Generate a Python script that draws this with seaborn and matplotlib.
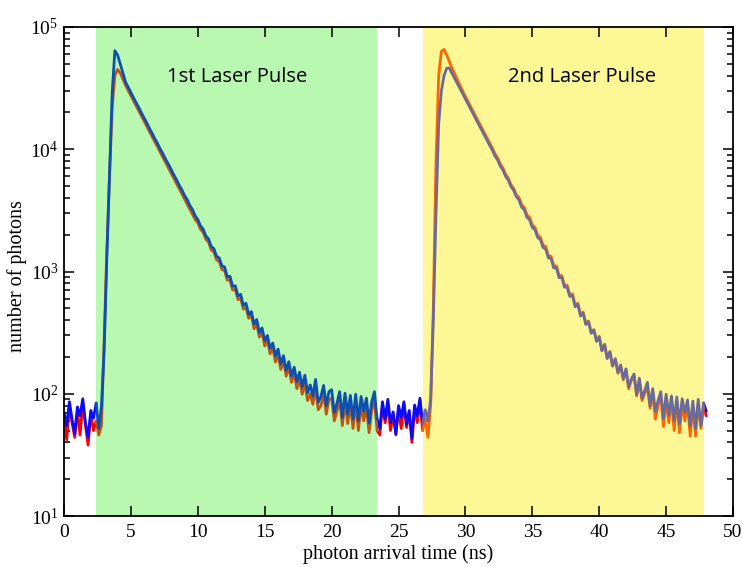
import numpy as np
import pandas as pd
import matplotlib
matplotlib.use("Agg")
import matplotlib.pyplot as plt
import seaborn as sns
from matplotlib.ticker import LogLocator, LogFormatterMathtext, NullFormatter

# ---------------- data ----------------
time_ns = np.round(np.arange(241) * 0.2, 1)   # histogram bin positions, 0 .. 48 ns

blue_counts = [
    70, 55, 86, 62, 47, 78, 66, 91, 58, 44,
    73, 63, 84, 52, 80, 230, 1300, 6200, 29000, 64000,
    59000, 50000, 42000, 35400, 32100, 29100, 26300, 23900, 21800, 19700,
    17900, 16300, 14700, 13400, 12100, 11100, 10000, 9150, 8250, 7550,
    6850, 6180, 5650, 5100, 4680, 4200, 3880, 3470, 3210, 2860,
    2660, 2360, 2220, 1950, 1850, 1600, 1540, 1330, 1290, 1110,
    1090, 905, 915, 755, 765, 630, 650, 528, 550, 445,
    470, 372, 405, 318, 345, 272, 300, 236, 260, 205,
    232, 176, 205, 155, 183, 140, 165, 126, 150, 114,
    142, 102, 118, 96, 131, 85, 95, 117, 80, 104,
    108, 70, 84, 104, 64, 101, 68, 97, 62, 99,
    60, 95, 72, 92, 58, 86, 104, 62, 52, 86,
    62, 90, 58, 71, 47, 80, 64, 86, 56, 73,
    43, 81, 66, 92, 57, 74, 60, 90, 400, 3000,
    16000, 30000, 40000, 46000, 46200, 41800, 37900, 34400, 31300, 28400,
    25800, 23400, 21250, 19300, 17500, 15900, 14450, 13130, 11920, 10830,
    9900, 8850, 8200, 7300, 6780, 6010, 5600, 4960, 4630, 4100,
    3860, 3360, 3200, 2770, 2650, 2290, 2200, 1895, 1830, 1570,
    1530, 1290, 1280, 1070, 1070, 890, 895, 745, 745, 625,
    635, 515, 537, 433, 455, 368, 388, 312, 332, 268,
    290, 226, 252, 195, 220, 170, 193, 150, 172, 133,
    160, 114, 132, 145, 98, 134, 92, 106, 124, 80,
    110, 72, 88, 104, 63, 99, 67, 96, 60, 94,
    57, 91, 70, 89, 54, 87, 52, 90, 55, 84,
    72,
]

red_counts = [
    66, 42, 80, 58, 44, 72, 46, 84, 55, 38,
    68, 50, 60, 46, 55, 280, 1500, 6000, 22000, 40000,
    45000, 42000, 37500, 33300, 30200, 27350, 24820, 22520, 20440, 18550,
    16830, 15270, 13860, 12580, 11410, 10370, 9410, 8540, 7750, 7030,
    6380, 5790, 5250, 4770, 4330, 3930, 3560, 3230, 2940, 2660,
    2500, 2215, 2090, 1830, 1740, 1500, 1445, 1245, 1205, 1035,
    1020, 850, 850, 705, 712, 588, 605, 492, 508, 414,
    440, 340, 372, 290, 318, 246, 274, 212, 238, 182,
    210, 158, 186, 139, 165, 124, 148, 110, 133, 99,
    122, 88, 100, 82, 113, 74, 80, 100, 68, 90,
    92, 60, 72, 90, 55, 86, 57, 83, 52, 84,
    50, 80, 60, 78, 48, 74, 88, 50, 46, 80,
    58, 84, 50, 68, 46, 75, 52, 83, 53, 70,
    40, 76, 58, 88, 50, 62, 44, 80, 500, 8000,
    40000, 63000, 65500, 59000, 52000, 46000, 41500, 37000, 33300, 29900,
    27000, 24560, 22250, 20200, 18330, 16640, 15110, 13720, 12450, 11310,
    10330, 9230, 8540, 7600, 7050, 6250, 5810, 5140, 4790, 4240,
    4040, 3520, 3350, 2900, 2770, 2400, 2300, 1980, 1910, 1640,
    1600, 1345, 1330, 1118, 1108, 930, 925, 775, 770, 650,
    656, 533, 552, 448, 465, 378, 393, 320, 335, 272,
    296, 224, 254, 194, 221, 168, 193, 147, 170, 130,
    156, 110, 128, 140, 96, 126, 88, 100, 116, 76,
    100, 62, 80, 95, 54, 90, 58, 88, 50, 86,
    48, 84, 60, 82, 45, 80, 45, 83, 52, 78,
    66,
]

window_edges = [(2.4, 23.4), (26.8, 47.8)]
window_labels = ["1st Laser Pulse", "2nd Laser Pulse"]
window_fill = ["#b8f8b0", "#fdf795"]
window_red_color = ["#c0570f", "#ff6600"]
window_blue_color = ["#0d4fb3", "#6a6a9c"]
x_ticks = [0, 5, 10, 15, 20, 25, 30, 35, 40, 45, 50]

# ---------------- styling ----------------
sns.set_theme(style="white")
plt.rcParams['font.family'] = ['Liberation Serif', 'DejaVu Serif']
plt.rcParams['mathtext.fontset'] = 'stix'

fig = plt.figure(figsize=(7.42, 5.67), dpi=100)
ax = fig.add_axes([0.0863, 0.0899, 0.9016, 0.8625])

df = pd.DataFrame({"t": time_ns, "blue": blue_counts, "red": red_counts})
eps = 1e-6
LW = 2.0

for (a, b), col in zip(window_edges, window_fill):
    ax.axvspan(a, b, color=col, lw=0, zorder=0)

# plain traces outside the two windows
outside = [
    df[df.t <= window_edges[0][0] + eps],
    df[(df.t >= window_edges[0][1] - eps) & (df.t <= window_edges[1][0] + eps)],
    df[df.t >= window_edges[1][1] - eps],
]
for seg in outside:
    sns.lineplot(data=seg, x="t", y="red", color="#ff0000", lw=LW, ax=ax,
                 estimator=None, sort=False)
    sns.lineplot(data=seg, x="t", y="blue", color="#0a0aff", lw=LW, ax=ax,
                 estimator=None, sort=False)

# highlighted traces inside the windows
for (a, b), rc, bc in zip(window_edges, window_red_color, window_blue_color):
    seg = df[(df.t >= a - eps) & (df.t <= b + eps)]
    sns.lineplot(data=seg, x="t", y="red", color=rc, lw=LW, ax=ax,
                 estimator=None, sort=False)
    sns.lineplot(data=seg, x="t", y="blue", color=bc, lw=LW, ax=ax,
                 estimator=None, sort=False)

ax.set_yscale("log")
ax.set_xlim(0, 50)
ax.set_ylim(10, 1e5)
ax.set_xticks(x_ticks)
ax.yaxis.set_major_locator(LogLocator(base=10, numticks=10))
ax.yaxis.set_minor_locator(LogLocator(base=10, subs=np.arange(2, 10), numticks=20))
ax.yaxis.set_major_formatter(LogFormatterMathtext())
ax.yaxis.set_minor_formatter(NullFormatter())
ax.grid(False)

ax.tick_params(which="both", direction="in", top=True, right=True,
               bottom=True, left=True, colors="black", width=1.1)
ax.tick_params(which="major", length=7, labelsize=14, pad=6)
ax.tick_params(which="minor", length=4)
ax.tick_params(axis="y", which="major", pad=4)
for sp in ax.spines.values():
    sp.set_color("black")
    sp.set_linewidth(1.3)

ax.set_xlabel("photon arrival time (ns)", fontsize=14.5, color="black")
ax.set_ylabel("number of photons", fontsize=14.5, color="black")
ax.xaxis.set_label_coords(0.5, -0.058)
ax.yaxis.set_label_coords(-0.055, 0.49)

ax.text(0.258, 0.898, window_labels[0], transform=ax.transAxes, ha="center",
        va="center", fontsize=14.5, family=["Open Sans", "DejaVu Sans"], color="black")
ax.text(0.774, 0.898, window_labels[1], transform=ax.transAxes, ha="center",
        va="center", fontsize=14.5, family=["Open Sans", "DejaVu Sans"], color="black")

fig.savefig("out.png", dpi=100)
